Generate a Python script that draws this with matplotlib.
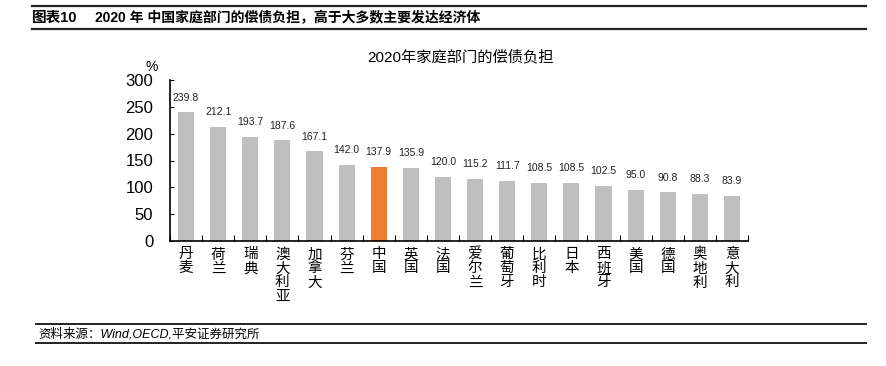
import matplotlib.pyplot as plt
from matplotlib.lines import Line2D

plt.rcParams['font.family'] = ['Liberation Sans', 'Noto Sans CJK SC']

countries = ['丹麦', '荷兰', '瑞典', '澳大利亚', '加拿大', '芬兰', '中国', '英国', '法国',
             '爱尔兰', '葡萄牙', '比利时', '日本', '西班牙', '美国', '德国', '奥地利', '意大利']
values = [239.8, 212.1, 193.7, 187.6, 167.1, 142.0, 137.9, 135.9, 120.0,
          115.2, 111.7, 108.5, 108.5, 102.5, 95.0, 90.8, 88.3, 83.9]
highlight = '中国'

W, H = 886, 366
fig = plt.figure(figsize=(W / 100, H / 100), dpi=100)

# header / footer rules
def hline(y, x0, x1, lw=1.6):
    fig.add_artist(Line2D([x0 / W, x1 / W], [1 - y / H, 1 - y / H], color='#222222', lw=lw))

hline(6, 32, 866)
hline(29, 32, 866)
hline(324, 36, 866, lw=1.4)
hline(343, 36, 866, lw=1.4)

fig.text(32 / W, 1 - 18 / H, '图表10', fontsize=10.5, fontweight='bold', va='center')
fig.text(95 / W, 1 - 18 / H, '2020 年 中国家庭部门的偿债负担，高于大多数主要发达经济体',
         fontsize=10, fontweight='bold', va='center')
fig.text(38 / W, 1 - 334 / H, '资料来源：Wind,OECD,平安证券研究所', fontsize=9,
         style='italic', va='center')

ax = fig.add_axes([170 / W, (H - 241) / H, (748 - 170) / W, (241 - 80) / H])
x = list(range(len(countries)))
colors = ['#ED7D31' if c == highlight else '#BFBFBF' for c in countries]
ax.bar(x, values, width=0.5, color=colors)
for xi, v in zip(x, values):
    ax.annotate(f'{v:.1f}', (xi, v), xytext=(0, 7), textcoords='offset points',
                ha='center', va='bottom', fontsize=7.5, color='#222222')

ax.set_xlim(-0.5, len(countries) - 0.5)
ax.set_ylim(0, 300)
ax.set_yticks(range(0, 301, 50))
ax.tick_params(axis='y', labelsize=12, direction='in', length=3, pad=12)
ax.set_xticks([i + 0.5 for i in range(-1, len(countries))])
ax.set_xticklabels([])
ax.tick_params(axis='x', direction='in', length=4)
for xi, c in zip(x, countries):
    ax.text(xi, -12, '\n'.join(c), ha='center', va='top', fontsize=10.5,
            linespacing=1.0, transform=ax.transData)
for s in ['top', 'right']:
    ax.spines[s].set_visible(False)
for s in ['left', 'bottom']:
    ax.spines[s].set_linewidth(1.2)

fig.text(460 / W, 1 - 57 / H, '2020年家庭部门的偿债负担', fontsize=11, ha='center', va='center')
fig.text(152 / W, 1 - 67 / H, '%', fontsize=10, ha='center', va='center')

fig.savefig('out.png', dpi=100)
